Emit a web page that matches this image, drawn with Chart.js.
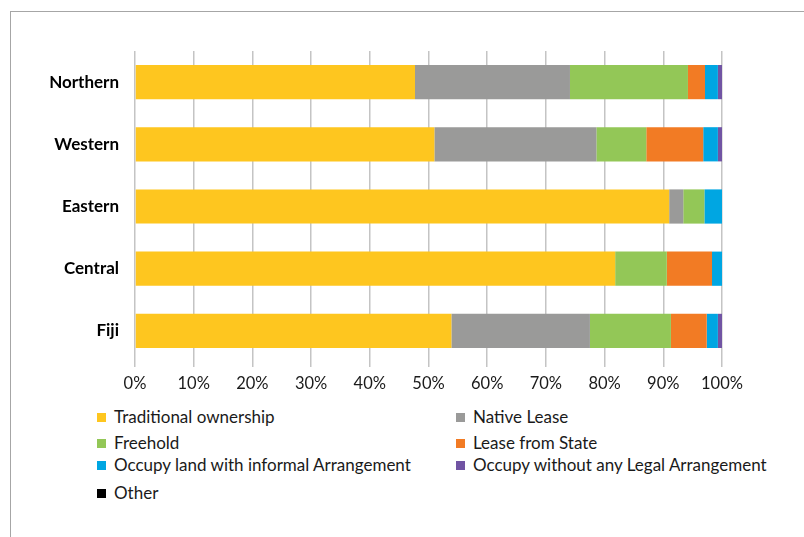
<!DOCTYPE html>
<html>
<head>
<meta charset="utf-8">
<script src="https://cdn.jsdelivr.net/npm/chart.js@4.4.0/dist/chart.umd.min.js"></script>
<style>
    body { margin: 0; width: 804px; height: 537px; background: #fff; overflow: hidden; position: relative; font-family: Lato, "Open Sans", sans-serif; }
    .frame { position: absolute; left: 10px; top: 11px; width: 800px; height: 540px; border-left: 1px solid #a6a6a6; border-top: 1px solid #a6a6a6; }
    .chart-box { position: absolute; left: 11px; top: 12px; width: 793px; height: 390px; }
    .legend-item { position: absolute; font-size: 17px; color: #1a1a1a; white-space: nowrap; line-height: 20px; }
    .legend-item span { position: absolute; width: 9px; height: 9px; left: -17px; top: 6px; }
</style>
</head>
<body>
<div class="frame"></div>
<div class="chart-box"><canvas id="tenure-chart" width="793" height="390"></canvas></div>
<div id="legend"></div>

<script>
// Categories and series (share of households, %)
const divisions = ["Northern", "Western", "Eastern", "Central", "Fiji"];
const traditional = [47.7, 51.0, 91.0, 81.8, 53.9];
const nativeLease = [26.4, 27.6, 2.4, 0, 23.6];
const freehold = [20.1, 8.5, 3.6, 8.8, 13.8];
const leaseState = [2.9, 9.7, 0, 7.7, 6.1];
const informal = [2.2, 2.5, 3.0, 1.7, 1.9];
const noLegal = [0.7, 0.7, 0, 0, 0.7];
const other = [0, 0, 0, 0, 0];
const tickLabels = ["0%", "10%", "20%", "30%", "40%", "50%", "60%", "70%", "80%", "90%", "100%"];

const seriesNames = ["Traditional ownership", "Native Lease", "Freehold", "Lease from State",
    "Occupy land with informal Arrangement", "Occupy without any Legal Arrangement", "Other"];
const seriesData = [traditional, nativeLease, freehold, leaseState, informal, noLegal, other];
const seriesColors = ["#FEC61F", "#9A9A99", "#93C757", "#F27B24", "#00A6E2", "#7154A3", "#000000"];

// HTML legend, two columns like the original
const legendPos = [[114, 407], [473, 407], [114, 433], [473, 433], [114, 455], [473, 455], [114, 483]];
const legendBox = document.getElementById("legend");
seriesNames.forEach((name, i) => {
    const item = document.createElement("div");
    item.className = "legend-item";
    item.style.left = legendPos[i][0] + "px";
    item.style.top = legendPos[i][1] + "px";
    item.innerHTML = `<span style="background:${seriesColors[i]}"></span>${name}`;
    legendBox.appendChild(item);
});

const ctx = document.getElementById("tenure-chart").getContext("2d");
new Chart(ctx, {
    type: "bar",
    data: {
        labels: divisions,
        datasets: seriesNames.map((name, i) => ({
            label: name,
            data: seriesData[i],
            backgroundColor: seriesColors[i],
            barPercentage: 0.55,
            categoryPercentage: 1,
        })),
    },
    options: {
        indexAxis: "y",
        responsive: false,
        animation: false,
        layout: { padding: { top: 39, right: 82, bottom: 0, left: 0 } },
        plugins: { legend: { display: false }, tooltip: { enabled: false } },
        scales: {
            x: {
                stacked: true,
                min: 0,
                max: 100,
                grid: { color: "#c4c4c4", lineWidth: 1.5, tickLength: 5 },
                border: { display: false },
                ticks: {
                    stepSize: 10,
                    padding: 7,
                    color: "#1a1a1a",
                    font: { family: "Lato", size: 16.5 },
                    callback: (v, i) => tickLabels[i],
                },
                afterFit: (scale) => { scale.height = 40; },
            },
            y: {
                stacked: true,
                grid: { display: false, drawTicks: false },
                border: { display: false },
                ticks: {
                    padding: 16,
                    color: "#000",
                    font: { family: "Lato", size: 17, weight: "bold" },
                },
                afterFit: (scale) => { scale.width = 124; },
            },
        },
    },
});
</script>
</body>
</html>
